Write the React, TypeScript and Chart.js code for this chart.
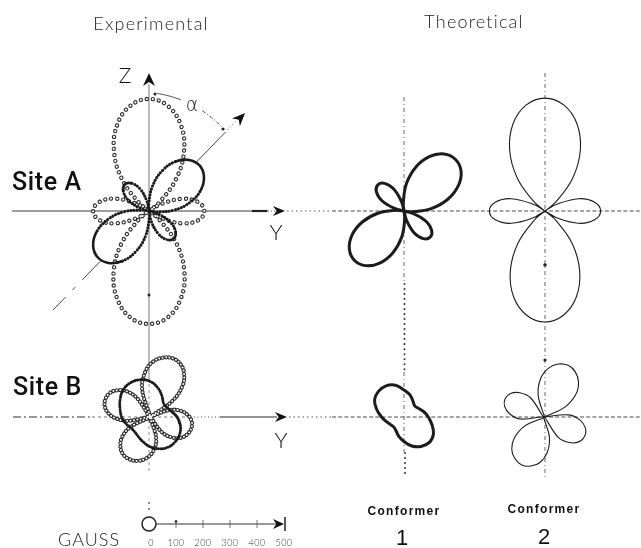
import { useEffect, useRef } from "react";
import { Chart, registerables } from "chart.js";

Chart.register(...registerables);

const W = 641;
const H = 548;
const PX_PER_GAUSS = 0.27;

// Polar readings of each rosette: [angle in degrees from +Y, counter-clockwise; splitting in gauss]
const expSiteAOpen: [number, number][] = [
  [35, 0], [40, 50], [50, 158], [60, 260], [70, 342], [80, 396], [90, 415], [100, 396], [110, 342],
  [120, 260], [130, 158], [140, 50], [145, 0], [150, 52], [160, 134], [170, 188], [180, 207],
  [190, 188], [200, 134], [210, 52], [215, 0], [220, 50], [230, 160], [240, 262], [250, 345],
  [260, 400], [270, 418], [280, 400], [290, 345], [300, 262], [310, 160], [320, 50], [325, 0],
  [330, 52], [340, 134], [350, 188], [360, 205], [370, 186], [380, 132], [390, 51], [395, 0],
];
const expSiteAFilled: [number, number][] = [
  [96, 0], [102, 37], [112, 88], [122, 121], [132, 133], [142, 121], [152, 88], [162, 37], [168, 0],
  [172, 26], [182, 94], [192, 158], [202, 210], [212, 244], [222, 256], [232, 244], [242, 210],
  [252, 158], [262, 94], [272, 26], [276, 0], [282, 38], [292, 90], [302, 125], [312, 137],
  [322, 125], [332, 90], [342, 38], [348, 0], [352, 26], [362, 93], [372, 156], [382, 207],
  [392, 240], [402, 252], [412, 240], [422, 207], [432, 156], [442, 93], [452, 26], [456, 0],
];
const expSiteBOpen: [number, number][] = [
  [28, 0], [36, 105], [44, 168], [52, 205], [60, 226], [68, 233], [77, 226], [87, 205], [96, 168],
  [106, 105], [115, 0], [124, 80], [132, 128], [141, 157], [149, 173], [158, 178], [166, 173],
  [174, 157], [182, 128], [190, 80], [198, 0], [207, 82], [216, 128], [225, 155], [234, 170],
  [243, 174], [254, 169], [265, 153], [276, 125], [287, 78], [298, 0], [308, 72], [318, 114],
  [327, 140], [337, 154], [347, 159], [355, 154], [363, 140], [372, 114], [380, 72], [388, 0],
];
const expSiteBFilled: [number, number][] = [
  [0, 100], [15, 82], [30, 72], [45, 71], [60, 89], [75, 112], [90, 132], [105, 143], [120, 146],
  [135, 141], [150, 128], [165, 115], [180, 105], [195, 93], [210, 81], [225, 79], [240, 85],
  [255, 96], [270, 110], [285, 122], [300, 130], [315, 131], [330, 127], [345, 116], [360, 100],
];
const conf1SiteA: [number, number][] = [
  [99, 0], [105, 36], [115, 90], [125, 125], [135, 137], [145, 125], [155, 90], [165, 36], [171, 0],
  [175, 30], [185, 97], [195, 161], [205, 213], [215, 247], [225, 259], [235, 247], [245, 213],
  [255, 161], [265, 97], [275, 30], [279, 0], [285, 36], [295, 90], [305, 125], [315, 137],
  [325, 125], [335, 90], [345, 36], [351, 0], [355, 30], [365, 101], [375, 168], [385, 222],
  [395, 258], [405, 270], [415, 258], [425, 222], [435, 168], [445, 101], [455, 30], [459, 0],
];
const conf2SiteA: [number, number][] = [
  [35, 0], [40, 52], [50, 160], [60, 262], [70, 345], [80, 399], [90, 418], [100, 399], [110, 345],
  [120, 262], [130, 160], [140, 52], [145, 0], [150, 50], [160, 133], [170, 187], [180, 206],
  [190, 187], [200, 133], [210, 50], [215, 0], [220, 49], [230, 156], [240, 257], [250, 339],
  [260, 392], [270, 411], [280, 392], [290, 339], [300, 257], [310, 156], [320, 49], [325, 0],
  [330, 50], [340, 133], [350, 187], [360, 206], [370, 187], [380, 133], [390, 50], [395, 0],
];
const conf1SiteB: [number, number][] = [
  [0, 90], [15, 76], [30, 63], [45, 57], [60, 67], [75, 85], [90, 100], [105, 122], [120, 133],
  [135, 134], [150, 126], [165, 104], [180, 83], [195, 67], [210, 57], [225, 53], [240, 59],
  [255, 74], [270, 91], [285, 111], [300, 126], [315, 133], [330, 126], [345, 107], [360, 90],
];
const conf2SiteB: [number, number][] = [
  [16, 0], [25, 84], [35, 143], [45, 181], [55, 203], [65, 211], [75, 203], [85, 181], [95, 143],
  [105, 84], [114, 0], [125, 87], [135, 127], [145, 151], [155, 159], [165, 151], [175, 127],
  [185, 87], [196, 0], [205, 78], [215, 133], [225, 169], [235, 188], [245, 196], [255, 188],
  [265, 169], [275, 133], [285, 78], [294, 0], [305, 92], [315, 134], [325, 159], [335, 167],
  [345, 159], [355, 134], [365, 92], [376, 0],
];

const gaussTicks = [0, 100, 200, 300, 400, 500];
const columnTitles = ["Experimental", "Theoretical"];
const siteNames = ["Site A", "Site B"];
const conformerNames = ["1", "2"];

// Layout: rosette origins in page pixels
const ORIGIN = {
  expA: { x: 149, y: 211 },
  expB: { x: 150, y: 417 },
  c1A: { x: 404, y: 211 },
  c2A: { x: 545, y: 211 },
  c1B: { x: 404, y: 417 },
  c2B: { x: 544, y: 417 },
};
const SCALE_BAR = { x: 149, y: 524 };

type Pt = { x: number; y: number };

function trace(readings: [number, number][], o: Pt, closed = false): Pt[] {
  const pts = readings.map(([deg, g]) => {
    const a = (deg * Math.PI) / 180;
    const d = g * PX_PER_GAUSS;
    return { x: o.x + d * Math.cos(a), y: o.y - d * Math.sin(a) };
  });
  if (closed) return [pts[pts.length - 2], ...pts, pts[1]];
  return pts;
}

const INK = "#1c1c1c";

// the recorder's trace runs together into a heavy stroke near each lobe tip
function isLobeTip(g: number) {
  return g >= 205 || (g >= 115 && g <= 140);
}

function buildDatasets() {
  const base = {
    showLine: true,
    pointRadius: 0,
    pointHoverRadius: 0,
    tension: 0.4,
    fill: false,
    borderJoinStyle: "round" as const,
  };
  const rings = (data: Pt[], gap: number, outer: number, inner: number) => [
    { ...base, data, borderColor: "#2b2b2b", borderWidth: outer, borderDash: [0.01, gap], borderCapStyle: "round" as const },
    { ...base, data, borderColor: "#ffffff", borderWidth: inner, borderDash: [0.01, gap], borderCapStyle: "round" as const },
  ];
  const dots = (data: Pt[], gap: number, width: number) => ({
    ...base, data, borderColor: INK, borderWidth: width, borderDash: [0.01, gap], borderCapStyle: "round" as const,
  });
  const solid = (data: Pt[], width: number) => ({
    ...base, data, borderColor: INK, borderWidth: width, borderCapStyle: "round" as const,
  });

  const filledA = {
    ...dots(trace(expSiteAFilled, ORIGIN.expA), 3.1, 3.1),
    segment: {
      borderDash: (c: any) =>
        isLobeTip(expSiteAFilled[c.p0DataIndex][1]) && isLobeTip(expSiteAFilled[c.p1DataIndex][1]) ? [] : undefined,
      borderWidth: (c: any) =>
        isLobeTip(expSiteAFilled[c.p0DataIndex][1]) && isLobeTip(expSiteAFilled[c.p1DataIndex][1]) ? 2.6 : undefined,
    },
  };

  const layers: any[] = [
    ...rings(trace(expSiteAOpen, ORIGIN.expA), 6, 4.4, 2.2),
    filledA,
    ...rings(trace(expSiteBOpen, ORIGIN.expB), 3.4, 4.2, 2.0),
    dots(trace(expSiteBFilled, ORIGIN.expB, true), 2.4, 3.0),
    solid(trace(conf1SiteA, ORIGIN.c1A), 3.0),
    solid(trace(conf2SiteA, ORIGIN.c2A), 1.1),
    solid(trace(conf1SiteB, ORIGIN.c1B, true), 3.0),
    solid(trace(conf2SiteB, ORIGIN.c2B), 1.1),
  ];
  // later layers drawn on top
  return layers.map((d, i) => ({ ...d, order: layers.length - i }));
}

const figureDecor = {
  id: "figureDecor",
  beforeDatasetsDraw(chart: any) {
    const { ctx } = chart;
    const sx = chart.scales.x;
    const sy = chart.scales.y;
    const X = (v: number) => sx.getPixelForValue(v);
    const Y = (v: number) => sy.getPixelForValue(v);

    const seg = (x1: number, y1: number, x2: number, y2: number, w = 1, c = "#444", dash: number[] = [], cap: CanvasLineCap = "butt") => {
      ctx.save();
      ctx.strokeStyle = c;
      ctx.lineWidth = w;
      ctx.lineCap = cap;
      ctx.setLineDash(dash);
      ctx.beginPath();
      ctx.moveTo(X(x1), Y(y1));
      ctx.lineTo(X(x2), Y(y2));
      ctx.stroke();
      ctx.restore();
    };
    const dot = (x: number, y: number, r = 1.4, c = "#222") => {
      ctx.save();
      ctx.fillStyle = c;
      ctx.beginPath();
      ctx.arc(X(x), Y(y), r, 0, Math.PI * 2);
      ctx.fill();
      ctx.restore();
    };
    const ray = (o: Pt, deg: number, d1: number, d2: number, w = 1, c = "#333", dash: number[] = []) => {
      const a = (deg * Math.PI) / 180;
      seg(o.x + d1 * Math.cos(a), o.y - d1 * Math.sin(a), o.x + d2 * Math.cos(a), o.y - d2 * Math.sin(a), w, c, dash);
    };
    const DASHDOT = [4, 3, 1, 3];

    // Site A, experimental axes
    const A = ORIGIN.expA;
    seg(12, A.y, 268, A.y, 1, "#3a3a3a");
    seg(252, A.y, 267, A.y, 2.2, "#222");
    seg(268, A.y, 276, A.y, 1, "#444", [1, 2]);
    seg(287, A.y, 332, A.y, 1.2, "#555", [1.5, 3]);
    seg(332, A.y, W, A.y, 1, "#4a4a4a", [4, 2.2]);
    seg(A.x, 84, A.x, 378, 0.9, "#6a6a6a");
    dot(A.x, 295, 1.5);
    // tilted molecular axis
    const tilt = 45.9;
    ray(A, tilt, 66, 110, 0.9, "#333");
    ray(A, tilt, 113, 128, 1, "#444", [1, 2.5]);
    ray(A, tilt + 180, 70, 96, 0.9, "#333");
    ray(A, tilt + 180, 106, 110, 1, "#444");
    ray(A, tilt + 180, 120, 138, 0.9, "#333");

    // alpha arc between Z and the tilted axis
    ctx.save();
    ctx.strokeStyle = "#3a3a3a";
    ctx.lineWidth = 0.9;
    const arcPart = (from: number, to: number, dash: number[]) => {
      ctx.setLineDash(dash);
      ctx.beginPath();
      for (let deg = from; deg >= to; deg -= 1) {
        const r = 111 + ((deg - 48) / 39) * 7;
        const a = (deg * Math.PI) / 180;
        const px = X(A.x + r * Math.cos(a));
        const py = Y(A.y - r * Math.sin(a));
        if (deg === from) ctx.moveTo(px, py);
        else ctx.lineTo(px, py);
      }
      ctx.stroke();
    };
    arcPart(86, 74, []);
    arcPart(62, 49, [4, 2, 1, 2]);
    ctx.restore();
    dot(155, 94, 1.5);
    dot(223, 129, 1.6);

    // Site B, experimental axes
    const B = ORIGIN.expB;
    seg(13, B.y, 92, B.y, 1.2, "#333", [8, 3, 2, 3]);
    seg(92, B.y, 187, B.y, 0.9, "#666", [3, 3]);
    seg(187, B.y, 220, B.y, 1, "#555", [1, 2.5]);
    seg(220, B.y, 277, B.y, 1.2, "#2a2a2a");
    seg(289, B.y, 332, B.y, 1.2, "#555", [1.5, 3]);
    seg(332, B.y, W, B.y, 1, "#4a4a4a", [4, 2.2]);
    seg(B.x - 1, 378, B.x - 1, 472, 0.8, "#777", [3, 3]);
    dot(149, 503, 0.9, "#555");
    dot(149, 509, 0.9, "#555");

    // Theoretical reference lines
    seg(ORIGIN.c1A.x, 97, ORIGIN.c1A.x, 282, 0.9, "#555", DASHDOT);
    seg(ORIGIN.c1A.x + 0.5, 284, ORIGIN.c1A.x + 0.5, 372, 2, "#333", [0.01, 5], "round");
    seg(ORIGIN.c1A.x, 372, ORIGIN.c1A.x, 452, 0.9, "#555", DASHDOT);
    seg(ORIGIN.c1A.x + 1, 453, ORIGIN.c1A.x + 1, 478, 2, "#333", [0.01, 5], "round");
    seg(ORIGIN.c2A.x, 73, ORIGIN.c2A.x, 478, 0.9, "#555", DASHDOT);
    dot(ORIGIN.c2A.x, 265, 1.8);
    dot(ORIGIN.c2A.x, 360, 1.6);

    // GAUSS scale bar
    const S = SCALE_BAR;
    const end = S.x + gaussTicks[gaussTicks.length - 1] * PX_PER_GAUSS;
    ctx.save();
    ctx.strokeStyle = "#222";
    ctx.lineWidth = 1.5;
    ctx.beginPath();
    ctx.arc(X(S.x), Y(S.y), 7, 0, Math.PI * 2);
    ctx.stroke();
    ctx.restore();
    seg(S.x + 7, S.y, end - 8, S.y, 1.1, "#333");
    gaussTicks.slice(1, -1).forEach((t) => {
      const tx = S.x + t * PX_PER_GAUSS;
      seg(tx, S.y - 4, tx, S.y + 4, 0.8, "#555");
    });
    dot(S.x + gaussTicks[1] * PX_PER_GAUSS, S.y - 2.5, 1.3);
    seg(end + 1, S.y - 7, end + 1, S.y + 7, 1.5, "#222");
  },
  afterDatasetsDraw(chart: any) {
    const { ctx } = chart;
    const sx = chart.scales.x;
    const sy = chart.scales.y;
    const X = (v: number) => sx.getPixelForValue(v);
    const Y = (v: number) => sy.getPixelForValue(v);

    const arrow = (tx: number, ty: number, deg: number, len: number, hw: number) => {
      const a = (deg * Math.PI) / 180;
      const ux = Math.cos(a), uy = -Math.sin(a);
      const px = X(tx), py = Y(ty);
      const bx = px - len * ux, by = py - len * uy;
      const nx = -uy, ny = ux;
      ctx.save();
      ctx.fillStyle = "#111";
      ctx.beginPath();
      ctx.moveTo(px, py);
      ctx.lineTo(bx + nx * hw, by + ny * hw);
      ctx.lineTo(px - len * 0.7 * ux, py - len * 0.7 * uy);
      ctx.lineTo(bx - nx * hw, by - ny * hw);
      ctx.closePath();
      ctx.fill();
      ctx.restore();
    };
    const text = (s: string, x: number, y: number, font: string, align: CanvasTextAlign = "center", spacing = "0px", color = "#1a1a1a") => {
      ctx.save();
      ctx.font = font;
      (ctx as any).letterSpacing = spacing;
      ctx.fillStyle = color;
      ctx.textAlign = align;
      ctx.textBaseline = "middle";
      ctx.fillText(s, X(x), Y(y));
      ctx.restore();
    };

    const A = ORIGIN.expA;
    const B = ORIGIN.expB;
    arrow(A.x, 73, 90, 13, 6);
    arrow(285, A.y, 0, 12, 5);
    arrow(287, B.y, 0, 12, 5);
    arrow(245, 113, 45.9, 13, 5.5);
    arrow(SCALE_BAR.x + gaussTicks[gaussTicks.length - 1] * PX_PER_GAUSS, SCALE_BAR.y, 0, 11, 5);

    const LIGHT = "300 18px Lato, 'Open Sans', sans-serif";
    text(columnTitles[0], 151, 24, LIGHT, "center", "1.2px", "#222");
    text(columnTitles[1], 474, 22, LIGHT, "center", "1.2px", "#222");
    text("Z", 125, 76, "300 21px Lato, sans-serif", "center", "0px", "#111");
    text("\u03b1", 192, 106, "300 19px 'DejaVu Sans', sans-serif", "center", "0px", "#222");
    text(siteNames[0], 12, 184, "500 25px Roboto, 'Liberation Sans', sans-serif", "left", "0.6px", "#111");
    text(siteNames[1], 13, 389, "500 25px Roboto, 'Liberation Sans', sans-serif", "left", "0.6px", "#111");
    text("Y", 276, 233, "300 22px Lato, sans-serif", "center", "0px", "#111");
    text("Y", 281, 441, "300 22px Lato, sans-serif", "center", "0px", "#111");

    text("GAUSS", 89, 540, "300 18px Lato, sans-serif", "center", "1px", "#222");
    gaussTicks.forEach((t) => {
      text(String(t), SCALE_BAR.x + t * PX_PER_GAUSS + (t === 0 ? 2 : 0), 543, "300 9px Lato, sans-serif", "center", "0.5px", "#333");
    });

    const BOLD = "700 12px 'Liberation Sans', Arial, sans-serif";
    text("Conformer", ORIGIN.c1A.x, 512, BOLD, "center", "1.3px", "#111");
    text("Conformer", ORIGIN.c2B.x, 510, BOLD, "center", "1.3px", "#111");
    text(conformerNames[0], ORIGIN.c1A.x - 2, 539, "400 22px 'Liberation Sans', Arial, sans-serif", "center", "0px", "#111");
    text(conformerNames[1], ORIGIN.c2B.x, 538, "400 22px 'Liberation Sans', Arial, sans-serif", "center", "0px", "#111");
  },
};

export default function App() {
  const ref = useRef<HTMLCanvasElement>(null);

  useEffect(() => {
    if (!ref.current) return;
    const chart = new Chart(ref.current, {
      type: "scatter",
      data: { datasets: buildDatasets() },
      options: {
        animation: false,
        responsive: false,
        devicePixelRatio: 1,
        events: [],
        layout: { padding: 0 },
        scales: {
          x: { type: "linear", min: 0, max: W, display: false },
          y: { type: "linear", min: 0, max: H, reverse: true, display: false },
        },
        plugins: {
          legend: { display: false },
          tooltip: { enabled: false },
        },
      },
      plugins: [figureDecor],
    });
    return () => chart.destroy();
  }, []);

  return (
    <div style={{ position: "absolute", left: 0, top: 0, width: W, height: H, background: "#fff" }}>
      <canvas ref={ref} width={W} height={H} style={{ display: "block" }} />
    </div>
  );
}
